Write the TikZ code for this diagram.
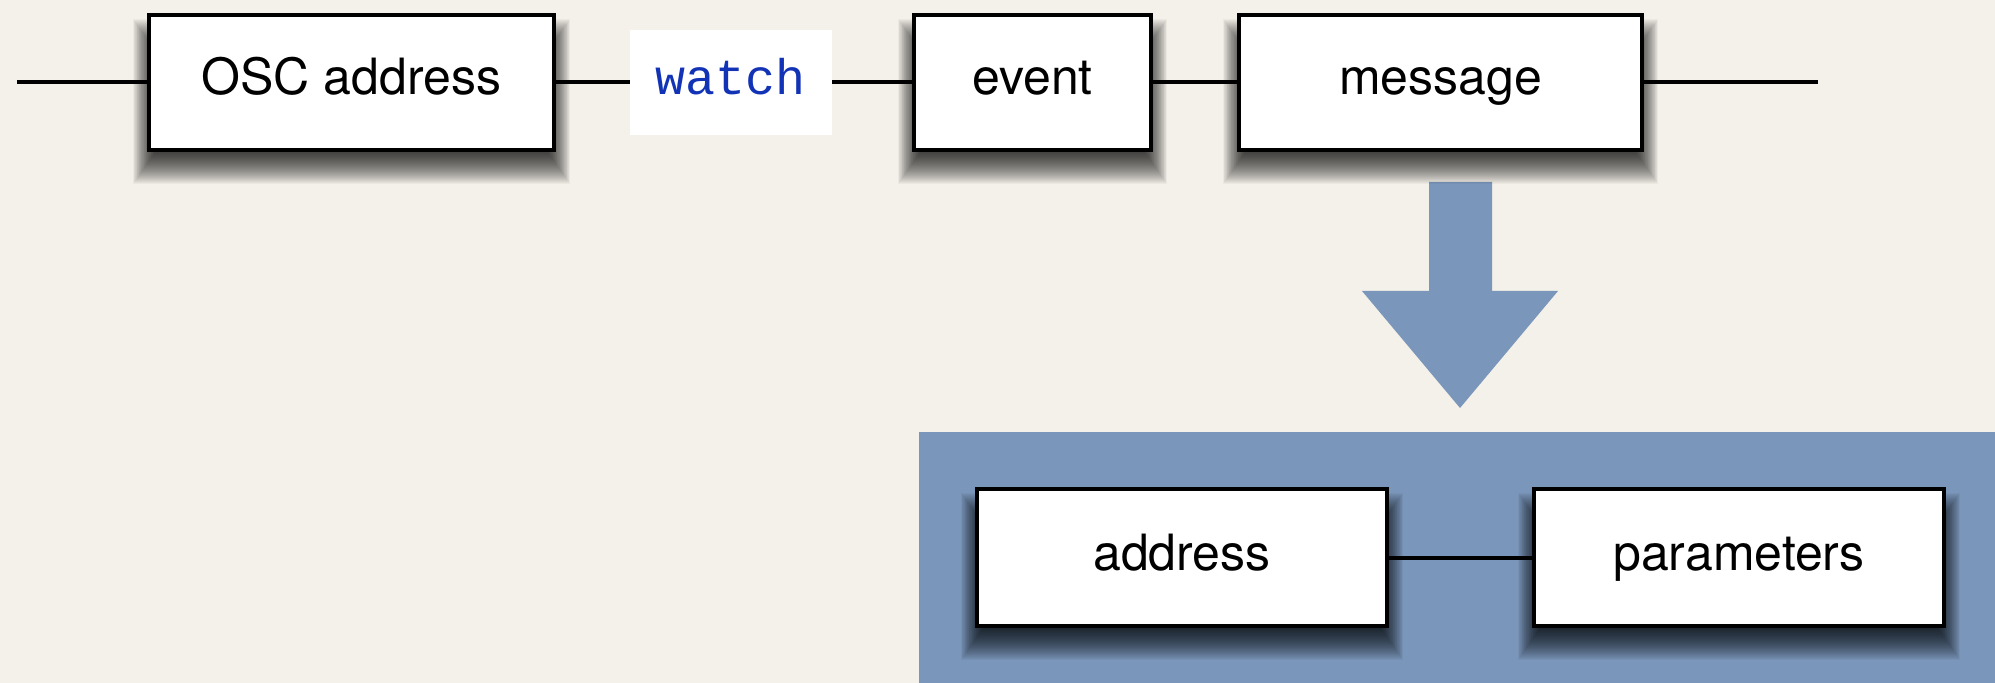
\documentclass[tikz,border=0pt]{standalone}
\usepackage{fontspec}
\setmainfont{TeX Gyre Heros}
\setmonofont{Liberation Mono}

\definecolor{paper}{HTML}{F4F1EA}
\definecolor{panelblue}{HTML}{7A96BA}
\definecolor{codeblue}{HTML}{1233B5}

\pgfdeclarelayer{back}
\pgfdeclarelayer{shade}
\pgfsetlayers{back,shade,main}

\tikzset{
  stage/.style={draw=black, line width=2pt, fill=white,
    minimum height=67.5pt, inner sep=0pt,
    text height=18.75pt, text depth=6.25pt,
    font=\fontsize{25}{30}\selectfont},
  keyword/.style={fill=white, draw=none, inner sep=0pt,
    minimum width=101pt, minimum height=52.5pt,
    text height=18.75pt, text depth=6.25pt,
    text=codeblue, font=\ttfamily\fontsize{25}{30}\selectfont},
  wire/.style={line width=2pt, draw=black},
  shadelayer/.style={fill=black, opacity=0.037}
}

% soft drop shadow under a named box, built from stacked translucent rectangles
\newcommand\dropshade[1]{%
  \begin{pgfonlayer}{shade}
    \foreach \e in {10,9.5,...,-6}{%
      \fill[shadelayer]
        ([xshift={-0.7*(\e)*1pt}, yshift={-(13pt-(\e)*1pt)}]#1.north west) rectangle
        ([xshift={0.7*(\e)*1pt}, yshift={-(6pt+(\e)*1pt)}]#1.south east);
    }%
  \end{pgfonlayer}}

\begin{document}
\begin{tikzpicture}[x=0.5pt, y=-0.5pt]
  \begin{pgfonlayer}{back}
    % canvas
    \fill[paper] (0,0) rectangle (1995,683);
    % expansion panel
    \fill[panelblue] (919,432) rectangle (1995,683);
    % downward block arrow from message to the panel
    \fill[panelblue] (1429,182) -- (1492,182) -- (1492,291) -- (1558,291)
      -- (1460,408) -- (1362,291) -- (1429,291) -- cycle;
  \end{pgfonlayer}
  \useasboundingbox (0,0) rectangle (1995,683);

  % top chain
  \coordinate (in)  at (17,82.5);
  \coordinate (out) at (1818,82.5);
  \node[stage, minimum width=202.5pt] (osc)   at (351.5,82.5) {OSC address};
  \node[keyword]                       (watch) at (731,82.5)   {watch};
  \node[stage, minimum width=118.5pt] (event) at (1032.5,82.5) {event};
  \node[stage, minimum width=201.5pt] (msg)   at (1440.5,82.5) {message};

  \draw[wire] (in) -- (osc.west);
  \draw[wire] (osc.east) -- (watch.west);
  \draw[wire] (watch.east) -- (event.west);
  \draw[wire] (event.east) -- (msg.west);
  \draw[wire] (msg.east) -- (out);

  % message structure
  \node[stage, minimum width=205pt, minimum height=68.5pt] (addr)   at (1182,557.5) {address};
  \node[stage, minimum width=205pt, minimum height=68.5pt] (params) at (1739,557.5) {parameters};
  \draw[wire] (addr.east) -- (params.west);

  \dropshade{osc}
  \dropshade{event}
  \dropshade{msg}
  \dropshade{addr}
  \dropshade{params}
\end{tikzpicture}
\end{document}
